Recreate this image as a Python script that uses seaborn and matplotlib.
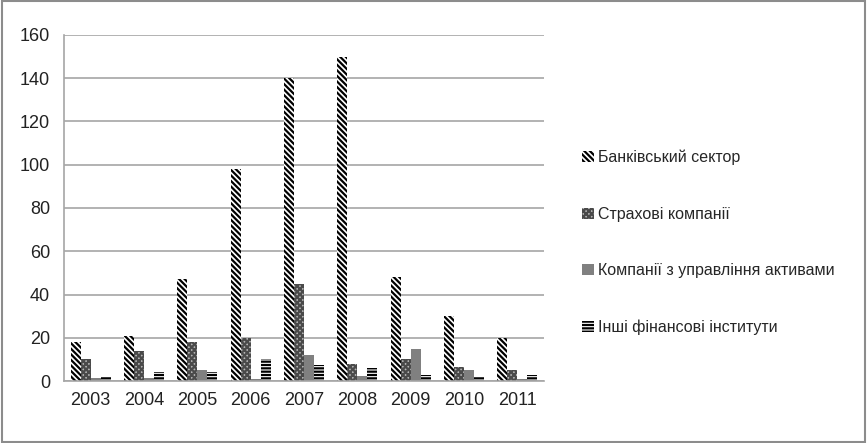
import pandas as pd
import matplotlib.pyplot as plt
import seaborn as sns

# ---------------------------------------------------------
# DATA
# ---------------------------------------------------------
YEARS = ["2003", "2004", "2005", "2006", "2007", "2008", "2009", "2010", "2011"]
BANKS = [18, 21, 47, 98, 140, 150, 48, 30, 20]
INSURANCE = [10, 14, 18, 20, 45, 8, 10, 6.5, 5]
ASSET_MGMT = [1.5, 1.5, 5, 1, 12, 2.5, 15, 5, 1]
OTHER = [2, 4, 4, 10, 7.5, 6, 3, 2, 3]

SERIES = [
    "Банківський сектор",
    "Страхові компанії",
    "Компанії з управління активами",
    "Інші фінансові інститути",
]
Y_TICKS = [0, 20, 40, 60, 80, 100, 120, 140, 160]

# ---------------------------------------------------------
# STYLE
# ---------------------------------------------------------
sns.set_theme(style="white")
plt.rcParams["font.family"] = ["Liberation Sans", "DejaVu Sans"]
plt.rcParams["hatch.linewidth"] = 1.6

FILLS = ["white", "#b5b5b5", "#808080", "white"]
EDGES = ["black", "#4a4a4a", "#808080", "black"]
HATCHES = ["\\\\\\\\\\\\", "xxxxxx", "", "-----"]

df = pd.DataFrame({
    "year": YEARS * 4,
    "value": BANKS + INSURANCE + ASSET_MGMT + OTHER,
    "series": [s for s in SERIES for _ in YEARS],
})

fig = plt.figure(figsize=(8.67, 4.43), dpi=100)
ax = fig.add_axes([64 / 867, 62 / 443, 480 / 867, 346 / 443])

sns.barplot(data=df, x="year", y="value", hue="series", hue_order=SERIES,
            order=YEARS, width=0.75, ax=ax, legend=False)

for cont, fill, edge, hatch in zip(ax.containers, FILLS, EDGES, HATCHES):
    for bar in cont:
        bar.set_facecolor(fill)
        bar.set_hatch(hatch)
        bar.set_edgecolor(edge)
        bar.set_linewidth(0)

# grid / axes
ax.set_ylim(0, 160)
ax.set_yticks(Y_TICKS)
ax.yaxis.grid(True, color="#a6a6a6", linewidth=1.2)
ax.set_axisbelow(True)
ax.set_xlim(-0.5, len(YEARS) - 0.5)
for side in ["top", "right"]:
    ax.spines[side].set_visible(False)
for side in ["left", "bottom"]:
    ax.spines[side].set_color("#a6a6a6")
    ax.spines[side].set_linewidth(1.2)
ax.set_xlabel("")
ax.set_ylabel("")
ax.tick_params(axis="both", labelsize=13, colors="#222222", length=0, pad=8)
ax.tick_params(axis="y", pad=10)

# tick marks between categories
ax.set_xticks([i - 0.5 for i in range(len(YEARS) + 1)], minor=True)
ax.tick_params(axis="x", which="minor", length=6, color="#a6a6a6", width=1.2)

# legend
handles = []
for fill, edge, hatch, name in zip(FILLS, EDGES, HATCHES, SERIES):
    handles.append(plt.Rectangle((0, 0), 1, 1, facecolor=fill, hatch=hatch,
                                 edgecolor=edge, linewidth=0, label=name))
ax.legend(handles=handles, loc="center left", bbox_to_anchor=(1.05, 0.40),
          frameon=False, fontsize=11.5, handlelength=0.7, handleheight=0.7,
          handletextpad=0.3, labelspacing=2.6)

# outer border
fig.patches.append(plt.Rectangle((0.002, 0.003), 0.996, 0.994, transform=fig.transFigure,
                                 fill=False, edgecolor="#8c8c8c", linewidth=1.5))

fig.savefig("out.png", dpi=100)
